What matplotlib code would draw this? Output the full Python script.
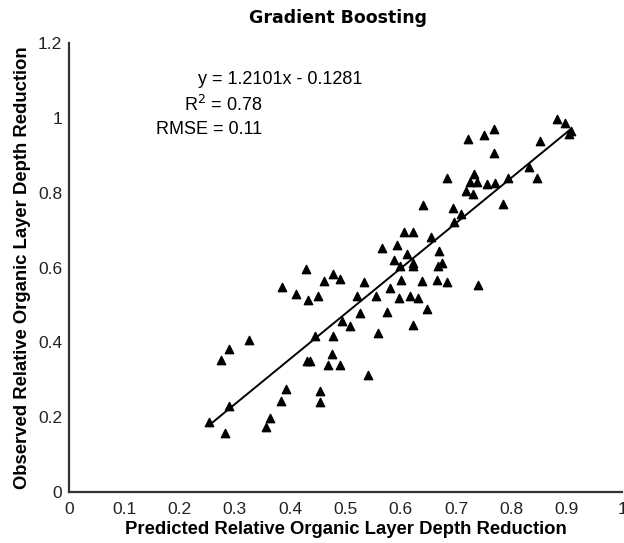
import matplotlib
matplotlib.use("Agg")
import matplotlib.pyplot as plt

# Predicted vs observed relative organic layer depth reduction
predicted = [
    0.254, 0.282, 0.290, 0.275, 0.289, 0.326, 0.356, 0.364, 0.384, 0.392,
    0.454, 0.454, 0.430, 0.436, 0.469, 0.490, 0.475, 0.541, 0.445, 0.477,
    0.493, 0.508, 0.527, 0.559, 0.575, 0.622, 0.648, 0.521, 0.556, 0.580,
    0.596, 0.617, 0.631, 0.534, 0.490, 0.462, 0.450, 0.433, 0.411, 0.385,
    0.428, 0.477, 0.601, 0.638, 0.666, 0.684, 0.740, 0.599, 0.622, 0.622,
    0.675, 0.667, 0.588, 0.612, 0.669, 0.566, 0.593, 0.605, 0.622, 0.654,
    0.640, 0.694, 0.709, 0.696, 0.684, 0.717, 0.730, 0.725, 0.737, 0.733,
    0.756, 0.770, 0.793, 0.784, 0.769, 0.721, 0.751, 0.768, 0.831, 0.846,
    0.851, 0.882, 0.897, 0.908, 0.904,
]
observed = [
    0.186, 0.158, 0.231, 0.353, 0.383, 0.405, 0.175, 0.198, 0.244, 0.275,
    0.241, 0.271, 0.351, 0.351, 0.340, 0.340, 0.370, 0.312, 0.418, 0.418,
    0.457, 0.444, 0.478, 0.425, 0.482, 0.446, 0.488, 0.524, 0.523, 0.545,
    0.519, 0.525, 0.519, 0.560, 0.568, 0.564, 0.525, 0.513, 0.530, 0.547,
    0.597, 0.583, 0.567, 0.564, 0.566, 0.560, 0.554, 0.604, 0.613, 0.604,
    0.611, 0.603, 0.619, 0.637, 0.645, 0.653, 0.659, 0.696, 0.696, 0.682,
    0.768, 0.759, 0.744, 0.722, 0.838, 0.805, 0.797, 0.828, 0.829, 0.851,
    0.823, 0.826, 0.840, 0.771, 0.905, 0.944, 0.953, 0.971, 0.869, 0.839,
    0.939, 0.997, 0.987, 0.966, 0.956,
]

# Regression shown on the chart
slope = 1.2101
intercept = -0.1281

x_ticks = [0, 0.1, 0.2, 0.3, 0.4, 0.5, 0.6, 0.7, 0.8, 0.9, 1]
x_tick_labels = ["0", "0.1", "0.2", "0.3", "0.4", "0.5", "0.6", "0.7", "0.8", "0.9", "1"]
y_ticks = [0, 0.2, 0.4, 0.6, 0.8, 1, 1.2]
y_tick_labels = ["0", "0.2", "0.4", "0.6", "0.8", "1", "1.2"]

plt.rcParams["font.family"] = ["Liberation Sans", "DejaVu Sans"]

fig = plt.figure(figsize=(6.24, 5.43), dpi=100)
ax = fig.add_axes([0.1106, 0.0939, 0.8862, 0.8269])

ax.scatter(predicted, observed, marker="^", s=36, color="black", zorder=3, clip_on=False)

# fit line over the range of predicted values
x_line = [min(predicted), max(predicted)]
y_line = [slope * v + intercept for v in x_line]
ax.plot(x_line, y_line, color="black", linewidth=1.4, zorder=2)

ax.set_xlim(0, 1)
ax.set_ylim(0, 1.2)
ax.set_xticks(x_ticks)
ax.set_xticklabels(x_tick_labels)
ax.set_yticks(y_ticks)
ax.set_yticklabels(y_tick_labels)
ax.tick_params(axis="both", length=0, labelsize=12.5, colors="#222222")
ax.tick_params(axis="x", pad=7)
ax.tick_params(axis="y", pad=5)

for side in ["top", "right"]:
    ax.spines[side].set_visible(False)
for side in ["left", "bottom"]:
    ax.spines[side].set_linewidth(1.6)
    ax.spines[side].set_color("#333333")

ax.set_xlabel("Predicted Relative Organic Layer Depth Reduction",
              fontsize=13.3, fontweight="bold", labelpad=3)
ax.set_ylabel("Observed Relative Organic Layer Depth Reduction",
              fontsize=13.3, fontweight="bold", labelpad=5)
fig.text(338 / 624, 1 - 18 / 543, "Gradient Boosting", fontsize=12.5,
         fontweight="bold", family="DejaVu Sans", ha="center", va="center")

ax.text(0.233, 1.102, "y = 1.2101x - 0.1281", fontsize=13, ha="left", va="center")
ax.text(0.349, 1.035, "R$^2$ = 0.78", fontsize=13, ha="right", va="center")
ax.text(0.349, 0.968, "RMSE = 0.11", fontsize=13, ha="right", va="center")

fig.savefig("out.png", dpi=100)
